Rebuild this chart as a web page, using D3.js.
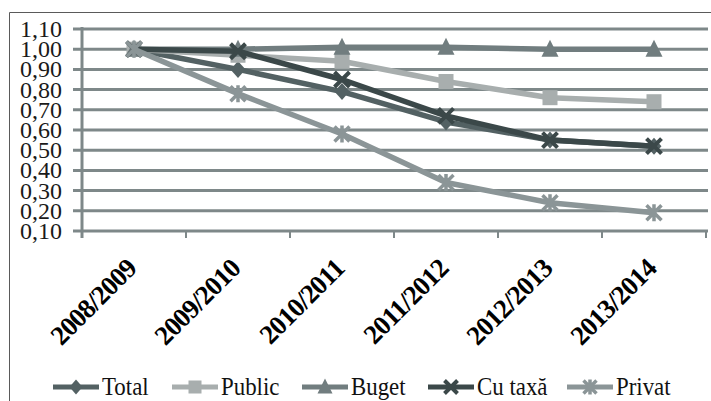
<!DOCTYPE html>
<html>
<head>
<meta charset="utf-8">
<script src="https://cdn.jsdelivr.net/npm/d3@7/dist/d3.min.js"></script>
<style>
  html, body { margin: 0; padding: 0; background: #fff; }
  svg { display: block; }
</style>
</head>
<body>
<svg id="chart" width="711" height="401"></svg>
<script>
// Academic years on the category axis
const categories = ["2008/2009", "2009/2010", "2010/2011", "2011/2012", "2012/2013", "2013/2014"];

// Index values relative to 2008/2009 (= 1.00)
const totalValues  = [1.00, 0.90, 0.79, 0.64, 0.55, 0.52];
const publicValues = [1.00, 0.97, 0.94, 0.84, 0.76, 0.74];
const bugetValues  = [1.00, 1.00, 1.01, 1.01, 1.00, 1.00];
const cuTaxaValues = [1.00, 0.99, 0.85, 0.67, 0.55, 0.52];
const privatValues = [1.00, 0.78, 0.58, 0.34, 0.24, 0.19];

const seriesNames = ["Total", "Public", "Buget", "Cu taxă", "Privat"];

// Value-axis tick labels
const yTicks = [0.10, 0.20, 0.30, 0.40, 0.50, 0.60, 0.70, 0.80, 0.90, 1.00, 1.10];

const series = [
  { name: seriesNames[0], values: totalValues,  color: "#536163", marker: "diamond" },
  { name: seriesNames[1], values: publicValues, color: "#a8aeae", marker: "square" },
  { name: seriesNames[2], values: bugetValues,  color: "#717d7f", marker: "triangle" },
  { name: seriesNames[3], values: cuTaxaValues, color: "#3b4849", marker: "cross" },
  { name: seriesNames[4], values: privatValues, color: "#8b9597", marker: "asterisk" }
];

const svg = d3.select("#chart");
const gridColor = "#7e8889";
const serif = '"Liberation Serif", "Times New Roman", serif';

// Outer frame (only top and left edges fall inside the view)
svg.append("line").attr("x1", 9.5).attr("y1", 12.5).attr("x2", 711).attr("y2", 12.5)
  .attr("stroke", "#5a5a5a").attr("stroke-width", 1);
svg.append("line").attr("x1", 9.5).attr("y1", 12.5).attr("x2", 9.5).attr("y2", 401)
  .attr("stroke", "#5a5a5a").attr("stroke-width", 1);

const plot = { left: 82, right: 706, top: 29, bottom: 231 };

const x = d3.scaleBand().domain(categories).range([plot.left, plot.right]);
const y = d3.scaleLinear().domain([0.10, 1.10]).range([plot.bottom, plot.top]);
const cx = d => x(d) + x.bandwidth() / 2;

// Horizontal gridlines with left tick marks
svg.append("g").selectAll("line").data(yTicks).enter().append("line")
  .attr("x1", plot.left - 9).attr("x2", plot.right + 2)
  .attr("y1", d => y(d)).attr("y2", d => y(d))
  .attr("stroke", gridColor).attr("stroke-width", 3);

// Vertical value axis
svg.append("line").attr("x1", plot.left).attr("x2", plot.left)
  .attr("y1", plot.top - 2).attr("y2", plot.bottom + 7)
  .attr("stroke", gridColor).attr("stroke-width", 3);

// Category axis ticks at band boundaries
const bounds = categories.map(c => x(c)).concat([plot.right]);
svg.append("g").selectAll("line").data(bounds).enter().append("line")
  .attr("x1", d => d).attr("x2", d => d)
  .attr("y1", plot.bottom).attr("y2", plot.bottom + 7)
  .attr("stroke", gridColor).attr("stroke-width", 2);

// Value labels
const fmt = d => d3.format(".2f")(d).replace(".", ",");
svg.append("g").selectAll("text").data(yTicks).enter().append("text")
  .attr("x", 62).attr("y", d => y(d) + 8)
  .attr("text-anchor", "end")
  .style("font-family", serif)
  .style("font-size", "24px")
  .attr("fill", "#1a1a1a")
  .text(fmt);

// Rotated category labels
svg.append("g").selectAll("text").data(categories).enter().append("text")
  .attr("transform", d => `translate(${cx(d) + 4},${plot.bottom + 39}) rotate(-45)`)
  .attr("text-anchor", "end")
  .style("font-family", serif)
  .style("font-weight", "bold")
  .style("font-size", "27px")
  .style("letter-spacing", "-0.8px")
  .attr("fill", "#000")
  .text(d => d);

// Marker drawing
function drawMarker(g, type, color, px, py, s) {
  const h = s / 2;
  if (type === "diamond") {
    g.append("path").attr("d", `M${px},${py - h - 1}L${px + h},${py}L${px},${py + h + 1}L${px - h},${py}Z`)
      .attr("fill", color);
  } else if (type === "square") {
    g.append("rect").attr("x", px - h).attr("y", py - h).attr("width", s).attr("height", s)
      .attr("fill", color);
  } else if (type === "triangle") {
    g.append("path").attr("d", `M${px},${py - h - 2}L${px + h + 1},${py + h}L${px - h - 1},${py + h}Z`)
      .attr("fill", color);
  } else if (type === "cross") {
    g.append("path").attr("d", `M${px - h},${py - h}L${px + h},${py + h}M${px + h},${py - h}L${px - h},${py + h}`)
      .attr("stroke", color).attr("stroke-width", 4);
  } else if (type === "asterisk") {
    g.append("path").attr("d", `M${px - h},${py - h}L${px + h},${py + h}M${px + h},${py - h}L${px - h},${py + h}M${px},${py - h - 1}L${px},${py + h + 1}`)
      .attr("stroke", color).attr("stroke-width", 3.5);
  }
}

const line = d3.line().x((d, i) => cx(categories[i])).y(d => y(d));

series.forEach(s => {
  const g = svg.append("g");
  g.append("path").datum(s.values).attr("d", line)
    .attr("fill", "none").attr("stroke", s.color).attr("stroke-width", 5.5)
    .attr("stroke-linejoin", "round");
  s.values.forEach((v, i) => drawMarker(g, s.marker, s.color, cx(categories[i]), y(v), 15));
});

// Legend
const legendX = [53, 172, 302, 428, 567];
const legend = svg.append("g");
series.forEach((s, i) => {
  const lx = legendX[i], ly = 387;
  legend.append("line").attr("x1", lx).attr("x2", lx + 46).attr("y1", ly).attr("y2", ly)
    .attr("stroke", s.color).attr("stroke-width", 5);
  drawMarker(legend, s.marker, s.color, lx + 23, ly, 13);
  legend.append("text")
    .attr("transform", `translate(${lx + 49},${395}) scale(0.88,1)`)
    .style("font-family", serif)
    .style("font-size", "26px")
    .attr("fill", "#111")
    .text(s.name);
});
</script>
</body>
</html>
